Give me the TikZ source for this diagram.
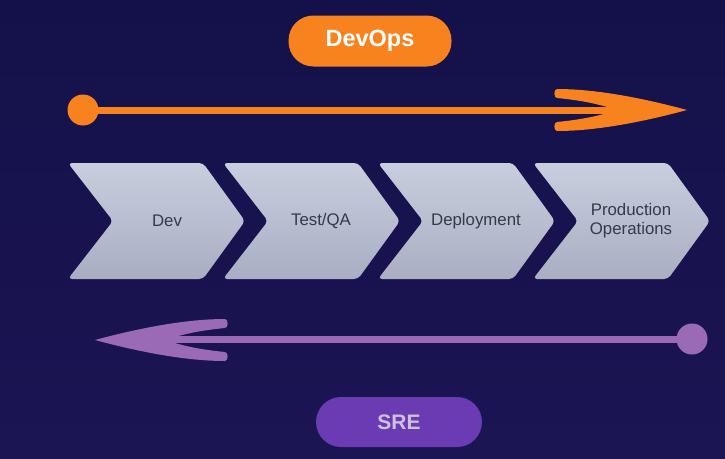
\documentclass[tikz,border=0pt]{standalone}
\usepackage{fontspec}
\setmainfont{Liberation Sans}
\definecolor{bgtop}{HTML}{14114A}
\definecolor{bgbot}{HTML}{1B1553}
\definecolor{orangeA}{HTML}{F7821E}
\definecolor{purpleA}{HTML}{9A6AB6}
\definecolor{srepill}{HTML}{6A3BB2}
\definecolor{sretext}{HTML}{CCC2DC}
\definecolor{chevtop}{HTML}{C9CEDE}
\definecolor{chevtext}{HTML}{363A48}
\definecolor{chevbotA}{HTML}{A8AEC2}
\definecolor{chevbotB}{HTML}{A8AEC3}
\definecolor{chevbotC}{HTML}{A9AEC2}
\definecolor{chevbotD}{HTML}{A8AFC2}
\tikzset{
  pill/.style={rounded corners=25pt, minimum width=163pt, minimum height=51pt, inner sep=0pt},
  chevlabel/.style={text=chevtext, align=center, font=\fontsize{16.8}{19}\selectfont},
  dotnode/.style={circle, minimum size=31pt, inner sep=0pt},
}
\newcommand{\chevron}[2]{%
  \shade[rounded corners=4pt, top color=chevtop, bottom color=#2] (#1,163) -- (#1+135,163) -- (#1+177,221) -- (#1+135,279) -- (#1,279) -- (#1+45,221) -- cycle;
}
\begin{document}
\begin{tikzpicture}[x=1pt,y=-1pt]
\shade[top color=bgtop, bottom color=bgbot] (0,0) rectangle (725,458);
\useasboundingbox (0,0) rectangle (725,458);

% DevOps pill
\node[pill, fill=orangeA, text=white, font=\bfseries\fontsize{23.5}{26}\selectfont] (devops) at (370,41) {DevOps};

% orange arrow
\node[dotnode, fill=orangeA] (odot) at (83,110) {};
\coordinate (otip) at (618,110);
\draw[orangeA, line width=7pt] (odot.center) -- (otip);
\fill[orangeA] (687,110) .. controls (650,100) and (600,89) .. (557,89)
  to[out=180,in=180] (557,98)
  .. controls (588,101) and (605,106) .. (616,110)
  .. controls (605,114) and (588,119) .. (557,122)
  to[out=180,in=180] (557,131)
  .. controls (600,131) and (650,120) .. (687,110) -- cycle;

% chevrons
\chevron{68}{chevbotA}
\chevron{223}{chevbotB}
\chevron{378}{chevbotC}
\chevron{533}{chevbotD}
\node[chevlabel] (dev) at (167,221) {Dev};
\node[chevlabel] (test) at (321,221) {Test/QA};
\node[chevlabel] (dep) at (476,221) {Deployment};
\node[chevlabel] (prod) at (631,221) {Production\\Operations};

% purple arrow
\node[dotnode, fill=purpleA] (pdot) at (692,339) {};
\coordinate (ptip) at (164,339);
\draw[purpleA, line width=7pt] (pdot.center) -- (ptip);
\fill[purpleA] (95,340) .. controls (132,330) and (182,319) .. (225,319)
  to[out=0,in=0] (225,328)
  .. controls (194,331) and (177,336) .. (166,340)
  .. controls (177,344) and (194,349) .. (225,352)
  to[out=0,in=0] (225,361)
  .. controls (182,361) and (132,350) .. (95,340) -- cycle;

% SRE pill
\node[pill, fill=srepill, text=sretext, minimum width=166pt, minimum height=50pt, font=\bfseries\fontsize{21}{24}\selectfont] (sre) at (399,422) {SRE};
\end{tikzpicture}
\end{document}
